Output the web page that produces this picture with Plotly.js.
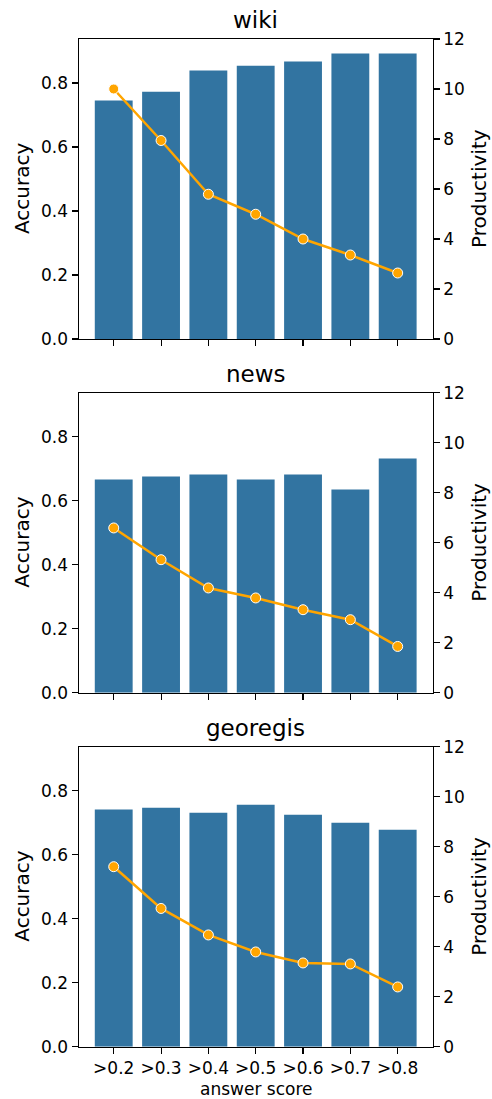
<!DOCTYPE html>
<html>
<head>
<meta charset="utf-8">
<script src="https://cdn.plot.ly/plotly-3.0.1.min.js"></script>
<style>
  html, body { margin: 0; padding: 0; background: #fff; }
  #chart { width: 492px; height: 1099px; }
</style>
</head>
<body>
<div id="chart"></div>
<script>
// ---- data ----
const categories = ['>0.2', '>0.3', '>0.4', '>0.5', '>0.6', '>0.7', '>0.8'];
const panelNames = ['wiki', 'news', 'georegis'];
const wikiAccuracy = [0.745, 0.773, 0.839, 0.854, 0.867, 0.892, 0.892];
const wikiProductivity = [10.0, 7.94, 5.79, 4.99, 4.0, 3.36, 2.64];
const newsAccuracy = [0.666, 0.676, 0.682, 0.666, 0.682, 0.635, 0.732];
const newsProductivity = [6.59, 5.32, 4.19, 3.79, 3.32, 2.92, 1.85];
const georegisAccuracy = [0.741, 0.747, 0.731, 0.756, 0.725, 0.700, 0.678];
const georegisProductivity = [7.20, 5.53, 4.47, 3.79, 3.35, 3.31, 2.39];
const accTicks = [0, 0.2, 0.4, 0.6, 0.8];
const accTickText = ['0.0', '0.2', '0.4', '0.6', '0.8'];
const prodTicks = [0, 2, 4, 6, 8, 10, 12];

const accuracySeries = [wikiAccuracy, newsAccuracy, georegisAccuracy];
const productivitySeries = [wikiProductivity, newsProductivity, georegisProductivity];

// ---- layout geometry (pixels) ----
const W = 492, H = 1099;
const plotLeft = 78.7, plotRight = 432.7;
const plotTops = [39, 392.7, 746.7];
const plotHeight = 300;

const BAR = '#3274a1';
const LINE = '#ffa500';
const FONT = 'DejaVu Sans, sans-serif';
const TICK = 17;

const px2x = p => p / W;
const px2y = p => 1 - p / H;

const traces = [];
const layout = {
  width: W, height: H,
  margin: {l: 0, r: 0, t: 0, b: 0},
  paper_bgcolor: '#fff', plot_bgcolor: '#fff',
  showlegend: false,
  font: {family: FONT, size: TICK, color: '#000'},
  annotations: []
};

for (let i = 0; i < 3; i++) {
  const xa = i === 0 ? 'x' : 'x' + (i + 1);
  const ya = 'y' + (2 * i + 1 === 1 ? '' : (2 * i + 1));
  const ya2 = 'y' + (2 * i + 2);
  const xKey = i === 0 ? 'xaxis' : 'xaxis' + (i + 1);
  const yKey = 2 * i + 1 === 1 ? 'yaxis' : 'yaxis' + (2 * i + 1);
  const y2Key = 'yaxis' + (2 * i + 2);
  const top = plotTops[i], bottom = top + plotHeight;
  const dom = [px2y(bottom), px2y(top)];

  traces.push({
    type: 'bar', x: categories, y: accuracySeries[i],
    xaxis: xa, yaxis: ya,
    marker: {color: BAR, line: {width: 0}},
    width: 0.8, hoverinfo: 'skip'
  });
  traces.push({
    type: 'scatter', mode: 'lines+markers', x: categories, y: productivitySeries[i],
    xaxis: xa, yaxis: ya2,
    line: {color: LINE, width: 2.5},
    marker: {color: LINE, size: 10, line: {color: '#fff', width: 1}},
    cliponaxis: false, hoverinfo: 'skip'
  });

  layout[xKey] = {
    domain: [px2x(plotLeft), px2x(plotRight)],
    anchor: ya,
    type: 'category',
    range: [-0.74, 6.74],
    showgrid: false, zeroline: false,
    showline: true, linecolor: '#000', linewidth: 1.2, mirror: true,
    ticks: 'outside', ticklen: 6, tickwidth: 1.1, tickcolor: '#000',
    showticklabels: i === 2,
    tickfont: {family: FONT, size: TICK, color: '#000'}
  };
  layout[yKey] = {
    domain: dom,
    anchor: xa,
    range: [0, 0.9375],
    tickvals: accTicks, ticktext: accTickText,
    showgrid: false, zeroline: false,
    showline: true, linecolor: '#000', linewidth: 1.2,
    ticks: 'outside', ticklen: 6, tickwidth: 1.1, tickcolor: '#000',
    tickfont: {family: FONT, size: TICK, color: '#000'}
  };
  layout[y2Key] = {
    domain: dom,
    anchor: xa,
    overlaying: ya,
    side: 'right',
    range: [0, 12],
    tickvals: prodTicks,
    showgrid: false, zeroline: false,
    showline: true, linecolor: '#000', linewidth: 1.2,
    ticks: 'outside', ticklen: 6, tickwidth: 1.1, tickcolor: '#000',
    tickfont: {family: FONT, size: TICK, color: '#000'}
  };

  // panel title
  layout.annotations.push({
    text: panelNames[i], xref: 'paper', yref: 'paper',
    x: px2x((plotLeft + plotRight) / 2), y: px2y(top - 4),
    xanchor: 'center', yanchor: 'bottom', showarrow: false,
    font: {family: FONT, size: 23, color: '#000'}
  });
  // left axis label
  layout.annotations.push({
    text: 'Accuracy', xref: 'paper', yref: 'paper',
    x: px2x(22), y: px2y(top + plotHeight / 2),
    xanchor: 'center', yanchor: 'middle', textangle: -90, showarrow: false,
    font: {family: FONT, size: 20, color: '#000'}
  });
  // right axis label
  layout.annotations.push({
    text: 'Productivity', xref: 'paper', yref: 'paper',
    x: px2x(479), y: px2y(top + plotHeight / 2),
    xanchor: 'center', yanchor: 'middle', textangle: -90, showarrow: false,
    font: {family: FONT, size: 20, color: '#000'}
  });
}

layout.annotations.push({
  text: 'answer score', xref: 'paper', yref: 'paper',
  x: px2x((plotLeft + plotRight) / 2), y: px2y(1089),
  xanchor: 'center', yanchor: 'middle', showarrow: false,
  font: {family: FONT, size: 17, color: '#000'}
});

Plotly.newPlot('chart', traces, layout, {staticPlot: true, displayModeBar: false});
</script>
</body>
</html>
